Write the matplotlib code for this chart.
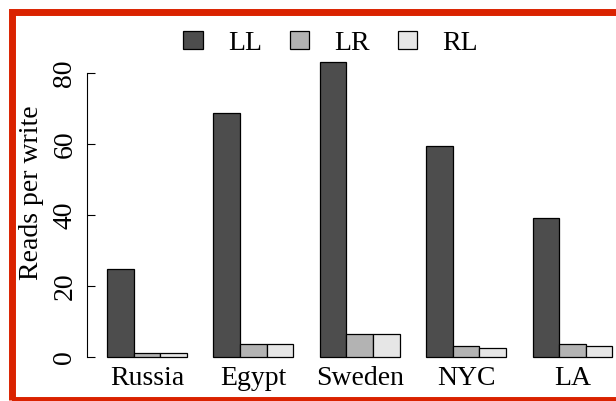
import matplotlib
matplotlib.use("Agg")
import matplotlib.pyplot as plt
from matplotlib.patches import Rectangle

plt.rcParams["font.family"] = ["Liberation Serif", "DejaVu Serif"]

cities = ["Russia", "Egypt", "Sweden", "NYC", "LA"]
series = ["LL", "LR", "RL"]
ll = [24.8, 68.8, 83.2, 59.5, 39.2]
lr = [1.3, 3.7, 6.6, 3.2, 3.7]
rl = [1.3, 3.7, 6.6, 2.6, 3.2]
colors = ["#4d4d4d", "#b3b3b3", "#e6e6e6"]

W, H = 616, 401
fig = plt.figure(figsize=(W / 100, H / 100), dpi=100)

# axes placed in pixel terms (R-like plot region, cropped on the right)
left_px, right_px, top_px, bot_px = 87, 616, 30, 360
ax = fig.add_axes([left_px / W, 1 - bot_px / H, (right_px - left_px) / W, (bot_px - top_px) / H])

# R barplot(beside=TRUE): bars of width 1, one empty unit between groups
for j, (name, vals) in enumerate(zip(series, [ll, lr, rl])):
    xs = [1 + 4 * i + j for i in range(len(cities))]
    ax.bar(xs, vals, width=1, align="edge", color=colors[j], edgecolor="black",
           linewidth=0.9, label=name)

px_per_unit = 26.6
zero_px, y_scale = 357.3, 3.55
ax.set_xlim(1 + (left_px - 107) / px_per_unit, 1 + (right_px - 107) / px_per_unit)
ax.set_ylim(-(bot_px - zero_px) / y_scale, (zero_px - top_px) / y_scale)

for s in ["top", "right", "bottom"]:
    ax.spines[s].set_visible(False)
ax.spines["left"].set_bounds(0, 80)
ax.spines["left"].set_linewidth(0.8)

ax.set_yticks([0, 20, 40, 60, 80])
ax.tick_params(axis="y", direction="in", length=5.8, width=0.8, pad=7, labelsize=20)
for lab in ax.get_yticklabels():
    lab.set_rotation(90)
    lab.set_verticalalignment("center")

ax.set_xticks([1 + 4 * i + 1.5 for i in range(len(cities))])
ax.set_xticklabels(cities)
ax.tick_params(axis="x", length=0, pad=4, labelsize=20)

ax.set_ylabel("Reads per write", fontsize=20)
ax.yaxis.label.set_verticalalignment("center")
ax.yaxis.set_label_coords((32 - left_px) / (right_px - left_px), (bot_px - 193) / (bot_px - top_px))

fig.legend(loc="center", bbox_to_anchor=(330.5 / W, 1 - 43.5 / H), ncol=3, frameon=False,
           fontsize=20, handlelength=0.7, handleheight=0.63, handletextpad=0.9,
           columnspacing=1.0, borderpad=0)

# red frame around the figure (cut off on the right and bottom)
fig.patches.append(Rectangle((11.5 / W, 1 - 400 / H), 620 / W, (400 - 11.5) / H,
                             transform=fig.transFigure, fill=False,
                             edgecolor="#da2200", linewidth=5.0))

fig.savefig("out.png", dpi=100)
